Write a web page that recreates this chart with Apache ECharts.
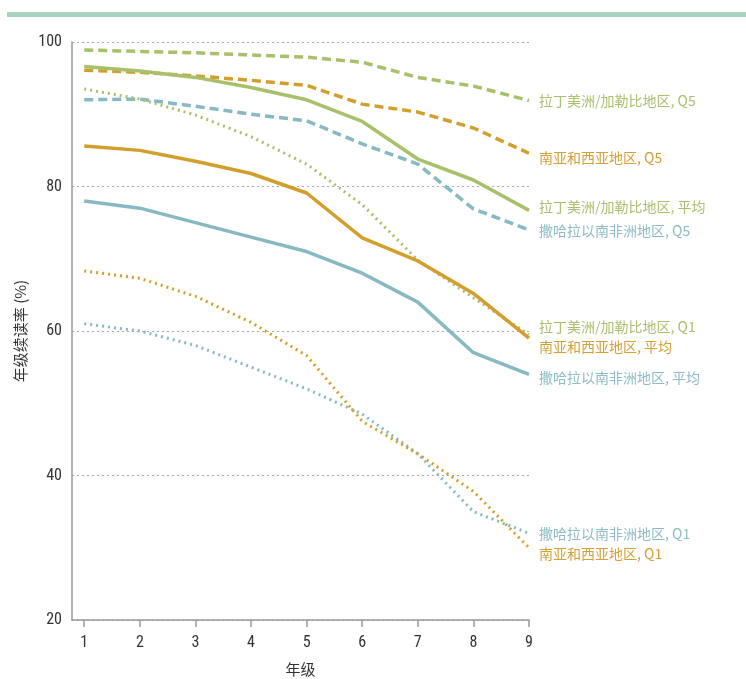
<!DOCTYPE html>
<html><head><meta charset="utf-8">
<script src="https://cdn.jsdelivr.net/npm/echarts@6/dist/echarts.min.js"></script>
<style>html,body{margin:0;padding:0;background:#fff}#c{width:746px;height:679px}</style>
</head><body><div id="c"></div>
<script>
const grades = [1,2,3,4,5,6,7,8,9];
const yTicks = [20,40,60,80,100];
const latamQ5  = [98.9,98.7,98.5,98.2,97.9,97.2,95.1,93.9,91.9];
const saQ5     = [96.1,95.8,95.3,94.7,94.0,91.4,90.3,88.1,84.6];
const latamAvg = [96.6,96.0,95.1,93.7,92.0,89.0,83.8,80.9,76.7];
const ssaQ5    = [92.0,92.1,91.1,90.0,89.1,85.9,83.1,76.9,74.0];
const latamQ1  = [93.5,92.1,89.9,86.9,83.1,77.5,69.8,64.6,59.5];
const saAvg    = [85.6,85.0,83.5,81.8,79.1,72.9,69.7,65.2,59.0];
const ssaAvg   = [78.0,77.0,75.0,73.0,71.0,68.0,64.0,57.0,54.0];
const saQ1     = [68.3,67.3,64.8,61.2,56.6,47.5,43.0,37.8,30.0];
const ssaQ1    = [61.0,60.0,58.0,55.0,52.0,48.5,43.0,35.0,32.0];

const GREEN='#a8c06a', ORANGE='#d39f2c', TEAL='#86b9c1';
const LG='#a9c070', LO='#d3a034', LT='#8dbcc5';
const CJK='"Noto Sans CJK SC", sans-serif';
const NUM='"Liberation Sans Narrow","Roboto Condensed","Liberation Sans",sans-serif';

function mk(name, data, color, lcolor, type, dy){
  const dash = type==='solid' ? 'solid' : (type==='dashed' ? [9,5] : [2,4]);
  const w = type==='dotted' ? 3 : 3.5;
  return {
    name, type:'line', data: grades.map((g,i)=>[g,data[i]]),
    symbol:'none', smooth:false,
    lineStyle:{color, width:w, type:dash, cap:'butt'},
    itemStyle:{color},
    endLabel:{show:true, formatter:name, color:lcolor, fontFamily:CJK, fontSize:14,
      distance:10, offset:[0,dy]},
    z: 2
  };
}

const chart = echarts.init(document.getElementById('c'));
chart.setOption({
  animation:false,
  grid:{left:72, right:217, top:42, bottom:59, containLabel:false, outerBoundsMode:'none'},
  graphic:[{type:'rect', shape:{x:7,y:12,width:739,height:5}, style:{fill:'#a8d3bf'}}],
  xAxis:{type:'value', min:0.78, max:9,
    name:'年级', nameLocation:'middle', nameGap:42,
    nameTextStyle:{fontFamily:CJK, fontSize:15, color:'#333'},
    axisLine:{show:true, lineStyle:{color:'#999', width:1.5}},
    axisTick:{show:true, length:7, lineStyle:{color:'#999', width:1.5}, customValues:grades},
    axisLabel:{customValues:grades, fontFamily:NUM, fontSize:16, color:'#333', margin:15},
    splitLine:{show:false}},
  yAxis:{type:'value', min:20, max:100, interval:20,
    name:'年级续读率 (%)', nameLocation:'middle', nameGap:41, nameRotate:90,
    nameTextStyle:{fontFamily:CJK, fontSize:15, color:'#333'},
    axisLine:{show:true, lineStyle:{color:'#999', width:1.5}},
    axisTick:{show:false},
    axisLabel:{fontFamily:NUM, fontSize:16, color:'#333', margin:10},
    splitLine:{show:true, lineStyle:{color:'#aaa', type:[2,3], width:1}}},
  series:[
    mk('拉丁美洲/加勒比地区, Q5', latamQ5, GREEN, LG, 'dashed', 0),
    mk('南亚和西亚地区, Q5', saQ5, ORANGE, LO, 'dashed', 4),
    mk('拉丁美洲/加勒比地区, 平均', latamAvg, GREEN, LG, 'solid', -4),
    mk('撒哈拉以南非洲地区, Q5', ssaQ5, TEAL, LT, 'dashed', 1),
    mk('拉丁美洲/加勒比地区, Q1', latamQ1, GREEN, LG, 'dotted', -8),
    mk('南亚和西亚地区, 平均', saAvg, ORANGE, LO, 'solid', 8),
    mk('撒哈拉以南非洲地区, 平均', ssaAvg, TEAL, LT, 'solid', 3),
    mk('撒哈拉以南非洲地区, Q1', ssaQ1, TEAL, LT, 'dotted', 0),
    mk('南亚和西亚地区, Q1', saQ1, ORANGE, LO, 'dotted', 6)
  ]
});
</script></body></html>
